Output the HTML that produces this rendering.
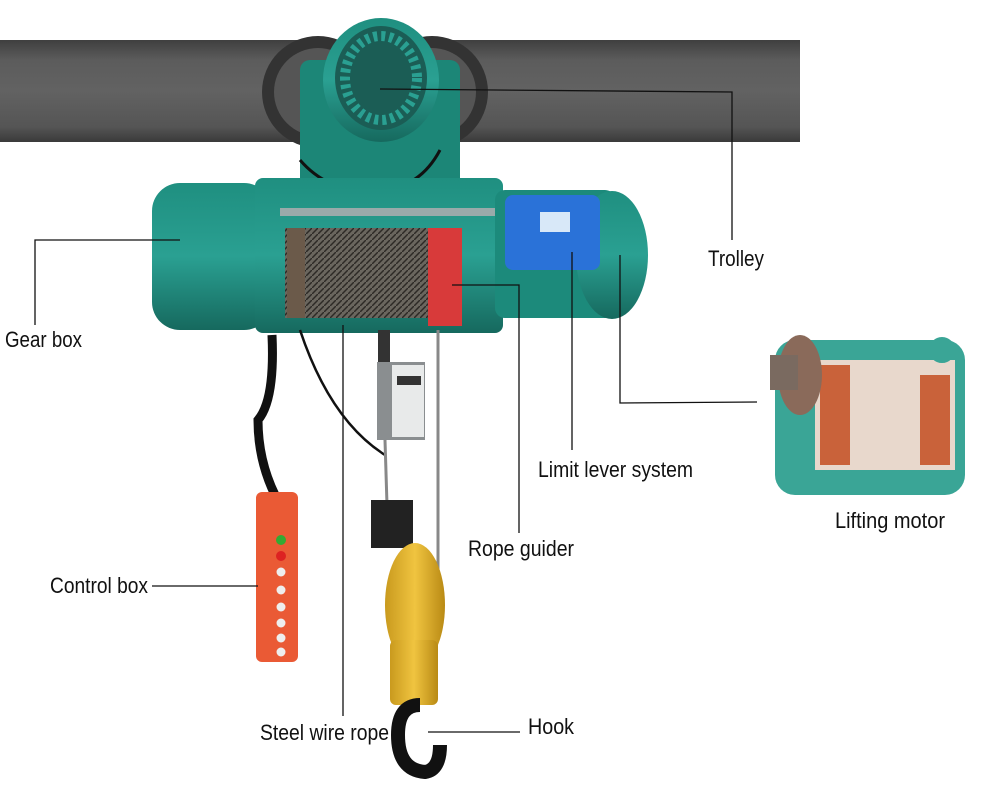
<!DOCTYPE html>
<html><head><meta charset="utf-8"><style>
html,body{margin:0;padding:0;background:#fff;}
svg{display:block}
text{font-family:"Liberation Sans Narrow","Liberation Sans",sans-serif;font-size:22px;fill:#111;}
</style></head><body>
<svg width="982" height="788" viewBox="0 0 982 788">
<defs>
<linearGradient id="beam" x1="0" y1="0" x2="0" y2="1"><stop offset="0" stop-color="#3f3f3f"/><stop offset="0.2" stop-color="#5c5c5c"/><stop offset="0.5" stop-color="#626262"/><stop offset="0.85" stop-color="#555"/><stop offset="1" stop-color="#3a3a3a"/></linearGradient>
<linearGradient id="teal" x1="0" y1="0" x2="0" y2="1"><stop offset="0" stop-color="#1f8f80"/><stop offset="0.5" stop-color="#2aa092"/><stop offset="1" stop-color="#16695e"/></linearGradient>
<linearGradient id="yel" x1="0" y1="0" x2="1" y2="0"><stop offset="0" stop-color="#c99a1e"/><stop offset="0.5" stop-color="#f0c440"/><stop offset="1" stop-color="#b98a14"/></linearGradient>
<pattern id="wire" width="6" height="6" patternUnits="userSpaceOnUse"><rect width="6" height="6" fill="#6a665e"/><path d="M0 6L6 0" stroke="#2d2a26" stroke-width="1.5"/></pattern>
</defs>
<rect x="0" y="40" width="800" height="102" fill="url(#beam)"/>
<circle cx="318" cy="92" r="56" fill="#333"/><circle cx="318" cy="92" r="44" fill="#555"/>
<circle cx="432" cy="92" r="56" fill="#333"/><circle cx="432" cy="92" r="44" fill="#555"/>
<rect x="300" y="60" width="160" height="130" rx="10" fill="#1c8677"/>
<ellipse cx="381" cy="80" rx="58" ry="62" fill="url(#teal)"/>
<ellipse cx="381" cy="78" rx="46" ry="52" fill="#1b5d55"/>
<ellipse cx="381" cy="78" rx="36" ry="42" fill="none" stroke="#2aa092" stroke-width="10" stroke-dasharray="4 4"/>
<path d="M300 160 Q330 195 380 190 Q420 188 440 150" stroke="#111" stroke-width="3" fill="none"/>
<rect x="152" y="183" width="120" height="147" rx="28" fill="url(#teal)"/>
<rect x="255" y="178" width="248" height="155" rx="8" fill="url(#teal)"/>
<rect x="285" y="228" width="150" height="90" fill="url(#wire)"/>
<rect x="287" y="228" width="18" height="90" fill="#6b5a4a"/>
<rect x="428" y="228" width="34" height="98" fill="#d83a3a"/>
<rect x="280" y="208" width="215" height="8" fill="#9aa"/>
<rect x="495" y="190" width="120" height="128" rx="10" fill="#1c8a7b"/>
<ellipse cx="612" cy="255" rx="36" ry="64" fill="url(#teal)"/>
<rect x="505" y="195" width="95" height="75" rx="8" fill="#2a72d8"/>
<rect x="540" y="212" width="30" height="20" fill="#d8e8f8"/>
<path d="M272 335 Q275 400 258 420 Q258 460 275 495" stroke="#111" stroke-width="9" fill="none"/>
<path d="M300 330 Q330 420 385 455" stroke="#111" stroke-width="2.5" fill="none"/>
<rect x="256" y="492" width="42" height="170" rx="6" fill="#ea5a35"/>
<circle cx="281" cy="540" r="5" fill="#3a3"/><circle cx="281" cy="556" r="5" fill="#d22"/>
<g fill="#eee"><circle cx="281" cy="572" r="4.5"/><circle cx="281" cy="590" r="4.5"/><circle cx="281" cy="607" r="4.5"/><circle cx="281" cy="623" r="4.5"/><circle cx="281" cy="638" r="4.5"/><circle cx="281" cy="652" r="4.5"/></g>
<rect x="378" y="330" width="12" height="35" fill="#333"/>
<rect x="377" y="362" width="48" height="78" fill="#8a8e90"/><rect x="392" y="365" width="32" height="72" fill="#e8eaea"/>
<rect x="397" y="376" width="24" height="9" fill="#333"/>
<line x1="385" y1="440" x2="387" y2="505" stroke="#888" stroke-width="3"/>
<line x1="438" y1="330" x2="438" y2="630" stroke="#888" stroke-width="3"/>
<rect x="371" y="500" width="42" height="48" fill="#222"/>
<ellipse cx="415" cy="605" rx="30" ry="62" fill="url(#yel)"/>
<rect x="390" y="640" width="48" height="65" rx="6" fill="url(#yel)"/>
<path d="M420 705 Q398 705 398 735 Q398 770 425 772 Q440 770 440 745" stroke="#111" stroke-width="14" fill="none"/>
<rect x="775" y="340" width="190" height="155" rx="20" fill="#3aa596"/>
<rect x="815" y="360" width="140" height="110" fill="#e8d8cc"/>
<rect x="820" y="365" width="30" height="100" fill="#c9623a"/><rect x="920" y="375" width="30" height="90" fill="#c9623a"/>
<ellipse cx="800" cy="375" rx="22" ry="40" fill="#8a6a5a"/><rect x="770" y="355" width="28" height="35" fill="#7a6a60"/>
<circle cx="942" cy="350" r="10" fill="none" stroke="#3aa596" stroke-width="6"/>
<g stroke="#111" stroke-width="1.3" fill="none">
<polyline points="380,89 732,92 732,240"/>
<polyline points="180,240 35,240 35,325"/>
<line x1="572" y1="252" x2="572" y2="450"/>
<polyline points="620,255 620,403 757,402"/>
<polyline points="452,285 519,285 519,533"/>
<line x1="152" y1="586" x2="258" y2="586"/>
<line x1="343" y1="325" x2="343" y2="716"/>
<line x1="428" y1="732" x2="520" y2="732"/>
</g>
<text x="708" y="266" textLength="56" lengthAdjust="spacingAndGlyphs">Trolley</text>
<text x="5" y="347" textLength="77" lengthAdjust="spacingAndGlyphs">Gear box</text>
<text x="538" y="477" textLength="155" lengthAdjust="spacingAndGlyphs">Limit lever system</text>
<text x="835" y="528" textLength="110" lengthAdjust="spacingAndGlyphs">Lifting motor</text>
<text x="468" y="556" textLength="106" lengthAdjust="spacingAndGlyphs">Rope guider</text>
<text x="50" y="593" textLength="98" lengthAdjust="spacingAndGlyphs">Control box</text>
<text x="260" y="740" textLength="129" lengthAdjust="spacingAndGlyphs">Steel wire rope</text>
<text x="528" y="734" textLength="46" lengthAdjust="spacingAndGlyphs">Hook</text>
</svg>
</body></html>
